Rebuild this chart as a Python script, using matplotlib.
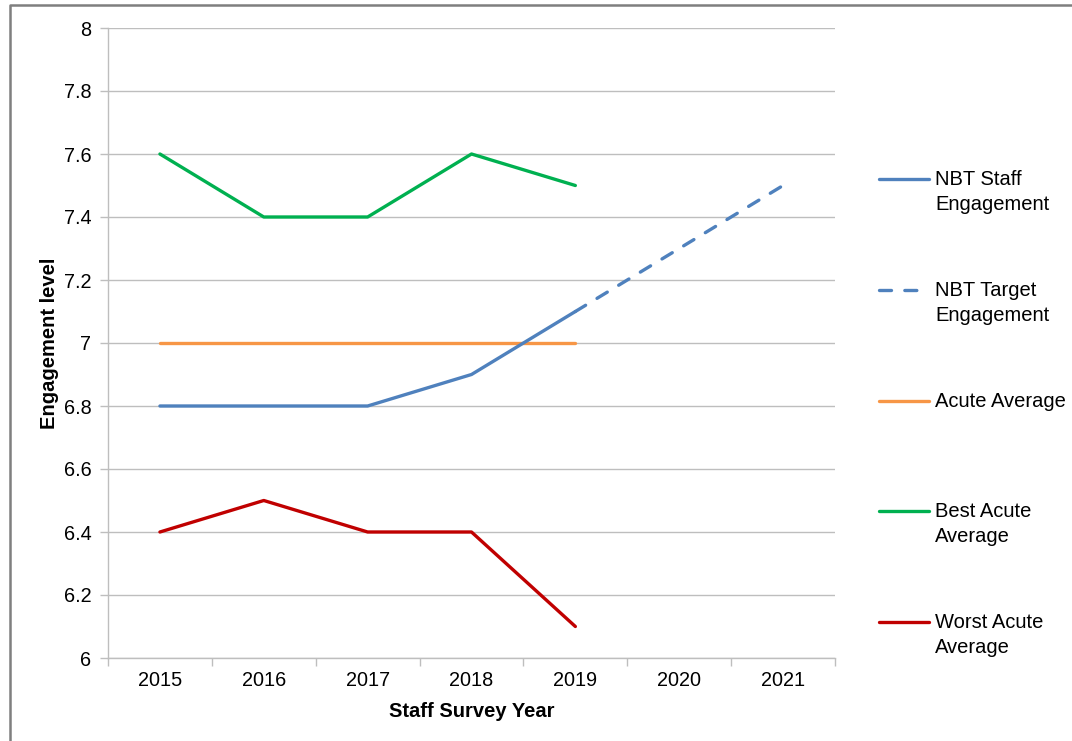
import numpy as np
import matplotlib
matplotlib.use("Agg")
import matplotlib.pyplot as plt
from matplotlib.lines import Line2D

plt.rcParams['font.family'] = ['Liberation Sans', 'DejaVu Sans']

# data
years = ['2015', '2016', '2017', '2018', '2019', '2020', '2021']
nbt_staff = [6.8, 6.8, 6.8, 6.9, 7.1]            # 2015-2019
nbt_target = [7.1, 7.3, 7.5]                     # 2019-2021
acute_avg = [7.0, 7.0, 7.0, 7.0, 7.0]
best_acute = [7.6, 7.4, 7.4, 7.6, 7.5]
worst_acute = [6.4, 6.5, 6.4, 6.4, 6.1]
y_ticks = [6, 6.2, 6.4, 6.6, 6.8, 7, 7.2, 7.4, 7.6, 7.8, 8]
y_labels = ['6', '6.2', '6.4', '6.6', '6.8', '7', '7.2', '7.4', '7.6', '7.8', '8']

c_blue = '#4F81BD'
c_orange = '#F79646'
c_green = '#00B050'
c_red = '#C00000'
grid_c = '#BEBEBE'

W, H = 1072, 741
fig = plt.figure(figsize=(W / 100, H / 100), dpi=100)
ax = fig.add_axes([108 / W, 1 - 658 / H, (835 - 108) / W, (658 - 28) / H])

x = np.arange(len(years))
lw = 2.4
dash = (3.6, 4.0)
ax.plot(x[:5], best_acute, color=c_green, lw=lw, solid_capstyle='round', zorder=3)
ax.plot(x[:5], acute_avg, color=c_orange, lw=lw, solid_capstyle='round', zorder=3)
ax.plot(x[:5], worst_acute, color=c_red, lw=lw, solid_capstyle='round', zorder=3)
ax.plot(x[:5], nbt_staff, color=c_blue, lw=lw, solid_capstyle='round', zorder=4)
ax.plot(x[4:], nbt_target, color=c_blue, lw=lw, dashes=dash,
        dash_capstyle='round', zorder=4)

ax.set_xlim(-0.5, len(years) - 0.5)
ax.set_ylim(6, 8)
ax.set_yticks(y_ticks)
ax.set_yticklabels(y_labels)
ax.set_xticks(x)
ax.set_xticklabels(years)
ax.set_xticks(np.arange(-0.5, len(years)), minor=True)
ax.tick_params(axis='x', which='major', length=0, pad=9, labelsize=14.3)
ax.tick_params(axis='x', which='minor', length=6, color=grid_c, width=1)
ax.tick_params(axis='y', length=6, color=grid_c, width=1, pad=6, labelsize=14.3)
ax.yaxis.grid(True, color=grid_c, lw=1)
ax.set_axisbelow(True)
for s in ['top', 'right']:
    ax.spines[s].set_visible(False)
for s in ['left', 'bottom']:
    ax.spines[s].set_color(grid_c)
    ax.spines[s].set_linewidth(1)

ax.set_xlabel('Staff Survey Year', fontsize=14.5, fontweight='bold', labelpad=9)
ax.set_ylabel('Engagement level', fontsize=14.5, fontweight='bold', labelpad=3)

# legend, drawn by hand so the line sits on the first text line
legend_items = [
    ('NBT Staff\nEngagement', c_blue, '-'),
    ('NBT Target\nEngagement', c_blue, '--'),
    ('Acute Average', c_orange, '-'),
    ('Best Acute\nAverage', c_green, '-'),
    ('Worst Acute\nAverage', c_red, '-'),
]
y0 = 179
step = 110.8
for i, (lab, col, ls) in enumerate(legend_items):
    yp = 1 - (y0 + i * step) / H
    kw = dict(dashes=dash, dash_capstyle='round') if ls == '--' else dict(solid_capstyle='round')
    fig.add_artist(Line2D([879 / W, 929 / W], [yp, yp], transform=fig.transFigure,
                          color=col, lw=lw, **kw))
    fig.text(935 / W, yp + 9 / H, lab, fontsize=14.5, va='top', ha='left',
             linespacing=1.38)

# chart frame (only top and left visible in the crop)
frame_c = '#7F7F7F'
fig.add_artist(Line2D([10 / W, 10 / W, 1], [0, 1 - 5 / H, 1 - 5 / H],
                      transform=fig.transFigure, color=frame_c, lw=1.8))

fig.savefig('out.png', dpi=100)
